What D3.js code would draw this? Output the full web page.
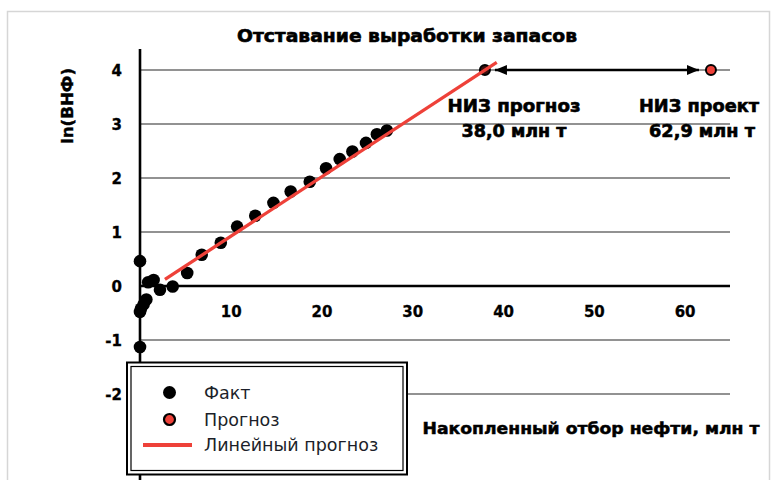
<!DOCTYPE html>
<html>
<head>
<meta charset="utf-8">
<script src="https://cdn.jsdelivr.net/npm/d3@7"></script>
<style>
  html, body { margin: 0; padding: 0; background: #fff; }
  svg { display: block; }
  .bold { font-family: "DejaVu Sans", "Liberation Sans", sans-serif; font-weight: bold; fill: #000; }
  .legend-text { font-family: "DejaVu Sans", "Liberation Sans", sans-serif; font-size: 17.5px; fill: #1c1f2a; }
</style>
</head>
<body>
<svg id="chart" width="773" height="480"></svg>
<script>
// Cumulative oil production (mln t) and ln(water-oil ratio) — actual points
const factX = [0, 0.9, 1.5, 2.2, 3.6, 5.2, 6.8, 8.9, 10.7, 12.7, 14.7, 16.6, 18.7, 20.5, 22.0, 23.4, 24.9, 26.1, 27.2, 0.7, 0.4, 0.1, 0, 0];
const factY = [0.46, 0.07, 0.11, -0.07, -0.01, 0.24, 0.58, 0.80, 1.10, 1.30, 1.54, 1.75, 1.93, 2.18, 2.35, 2.49, 2.65, 2.81, 2.88, -0.25, -0.34, -0.42, -0.48, -1.13];

// Recoverable reserves: forecast vs project, both at ln(ВНФ) = 4
const forecastX = [38.0, 62.9];
const forecastY = [4, 4];
const forecastLabels = [["НИЗ прогноз", "38,0 млн т"], ["НИЗ проект", "62,9 млн т"]];

// Linear trend ln(ВНФ) = a + b·Q over its fitted span
const trendIntercept = -0.18;
const trendSlope = 0.11;
const trendSpan = [2.75, 39.3];

const xTicks = [10, 20, 30, 40, 50, 60];
const yTicks = [-2, -1, 0, 1, 2, 3, 4];
const legendItems = ["Факт", "Прогноз", "Линейный прогноз"];

const title = "Отставание выработки запасов";
const xTitle = "Накопленный отбор нефти, млн т";
const yTitle = "ln(ВНФ)";

const RED = "#ee4139";

const svg = d3.select("#chart");

// outer frame
svg.append("rect")
  .attr("x", 7.5).attr("y", 11.5).attr("width", 762).attr("height", 480)
  .attr("fill", "#fff").attr("stroke", "#d6d6d6").attr("stroke-width", 1.5);

const x = d3.scaleLinear().domain([0, 65]).range([140, 730]);
const y = d3.scaleLinear().domain([-2, 4]).range([394, 70]);

// horizontal grid
svg.append("g")
  .selectAll("line")
  .data(yTicks.filter(v => v !== 0))
  .join("line")
  .attr("x1", x(0)).attr("x2", x(65))
  .attr("y1", d => y(d)).attr("y2", d => y(d))
  .attr("stroke", "#6e6e6e").attr("stroke-width", 1.4);

// y axis line
svg.append("line")
  .attr("x1", x(0)).attr("x2", x(0))
  .attr("y1", y(4.39)).attr("y2", y(-3.6))
  .attr("stroke", "#000").attr("stroke-width", 2.6);

// zero line
svg.append("line")
  .attr("x1", x(0)).attr("x2", x(65))
  .attr("y1", y(0)).attr("y2", y(0))
  .attr("stroke", "#000").attr("stroke-width", 2.6);

const plainInt = d => String(d);

// y tick labels
const yAxis = d3.axisLeft(y).tickValues(yTicks).tickSize(0).tickPadding(0).tickFormat(plainInt);
const gy = svg.append("g").attr("transform", "translate(122,0)").call(yAxis);
gy.select(".domain").remove();
gy.selectAll("text").attr("font-size", 15).attr("dy", "0.36em").attr("fill", "#000")
  .attr("stroke", "#000").attr("stroke-width", 0.3)
  .style("font-family", "'DejaVu Sans', sans-serif").style("font-weight", "bold");

// x tick labels
const xAxis = d3.axisBottom(x).tickValues(xTicks).tickSize(0).tickPadding(0).tickFormat(plainInt);
const gx = svg.append("g").attr("transform", "translate(0,306)").call(xAxis);
gx.select(".domain").remove();
gx.selectAll("text").attr("font-size", 15).attr("dy", "0.71em").attr("fill", "#000")
  .attr("stroke", "#000").attr("stroke-width", 0.3)
  .style("font-family", "'DejaVu Sans', sans-serif").style("font-weight", "bold");

// trend line
const line = d3.line().x(d => x(d)).y(d => y(trendIntercept + trendSlope * d));

// actual points
svg.append("g")
  .selectAll("circle")
  .data(factX.map((v, i) => [v, factY[i]]))
  .join("circle")
  .attr("cx", d => x(d[0])).attr("cy", d => y(d[1])).attr("r", 6.3)
  .attr("fill", "#000");

// forecast points
svg.append("g")
  .selectAll("circle")
  .data(forecastX.map((v, i) => [v, forecastY[i]]))
  .join("circle")
  .attr("cx", d => x(d[0])).attr("cy", d => y(d[1])).attr("r", 5)
  .attr("fill", (d, i) => i === 0 ? "#3a0f0d" : RED).attr("stroke", "#000").attr("stroke-width", 2);

svg.append("path")
  .attr("d", line(trendSpan))
  .attr("fill", "none").attr("stroke", RED).attr("stroke-width", 3.3);

// double-headed arrow between the two reserve estimates
const defs = svg.append("defs");
["start", "end"].forEach(k => {
  defs.append("marker")
    .attr("id", "arrow-" + k)
    .attr("viewBox", "0 0 12 10").attr("refX", k === "end" ? 12 : 0).attr("refY", 5)
    .attr("markerWidth", 12).attr("markerHeight", 10).attr("markerUnits", "userSpaceOnUse")
    .attr("orient", "auto")
    .append("path")
    .attr("d", k === "end" ? "M0,0 L12,5 L0,10 Z" : "M12,0 L0,5 L12,10 Z")
    .attr("fill", "#000");
});
svg.append("line")
  .attr("x1", x(forecastX[0]) + 10).attr("x2", x(forecastX[1]) - 12)
  .attr("y1", y(forecastY[0])).attr("y2", y(forecastY[1]))
  .attr("stroke", "#000").attr("stroke-width", 2.6)
  .attr("marker-start", "url(#arrow-start)").attr("marker-end", "url(#arrow-end)");

// reserve labels
const labelCenters = [514, 699];
forecastLabels.forEach((lines, i) => {
  lines.forEach((t, j) => {
    svg.append("text").attr("class", "bold")
      .attr("x", labelCenters[i] + (j === 1 && i === 1 ? 3 : 0))
      .attr("y", 112 + j * 25)
      .attr("text-anchor", "middle")
      .attr("font-size", 17)
      .attr("stroke", "#000").attr("stroke-width", 0.6)
      .attr("textLength", j === 0 ? (i === 0 ? 133 : 120) : (i === 0 ? 105 : 106))
      .attr("lengthAdjust", "spacingAndGlyphs")
      .text(t);
  });
});

// chart title
svg.append("text").attr("class", "bold")
  .attr("x", 407).attr("y", 42).attr("text-anchor", "middle")
  .attr("font-size", 17)
  .attr("stroke", "#000").attr("stroke-width", 0.6)
  .attr("textLength", 340).attr("lengthAdjust", "spacingAndGlyphs")
  .text(title);

// y axis title
svg.append("text").attr("class", "bold")
  .attr("transform", "translate(73,106) rotate(-90)")
  .attr("text-anchor", "middle")
  .attr("font-size", 16)
  .attr("stroke", "#000").attr("stroke-width", 0.4)
  .attr("textLength", 76).attr("lengthAdjust", "spacingAndGlyphs")
  .text(yTitle);

// x axis title
svg.append("text").attr("class", "bold")
  .attr("x", 591).attr("y", 434).attr("text-anchor", "middle")
  .attr("font-size", 16)
  .attr("stroke", "#000").attr("stroke-width", 0.5)
  .attr("textLength", 337).attr("lengthAdjust", "spacingAndGlyphs")
  .text(xTitle);

// legend with double border
const lg = svg.append("g");
lg.append("rect").attr("x", 127).attr("y", 362.5).attr("width", 280).attr("height", 112)
  .attr("fill", "#fff").attr("stroke", "#000").attr("stroke-width", 2);
lg.append("rect").attr("x", 131).attr("y", 366.5).attr("width", 272).attr("height", 104)
  .attr("fill", "none").attr("stroke", "#000").attr("stroke-width", 1.2);

const rowY = [392.5, 419.5, 445];
lg.append("circle").attr("cx", 169.5).attr("cy", rowY[0]).attr("r", 6.5).attr("fill", "#000");
lg.append("circle").attr("cx", 169.5).attr("cy", rowY[1]).attr("r", 5.5)
  .attr("fill", RED).attr("stroke", "#000").attr("stroke-width", 2.2);
lg.append("line").attr("x1", 143).attr("x2", 192).attr("y1", rowY[2]).attr("y2", rowY[2])
  .attr("stroke", RED).attr("stroke-width", 4);
lg.selectAll("text.legend-text")
  .data(legendItems)
  .join("text")
  .attr("class", "legend-text")
  .attr("x", 204).attr("y", (d, i) => rowY[i] + 6)
  .text(d => d);
</script>
</body>
</html>
